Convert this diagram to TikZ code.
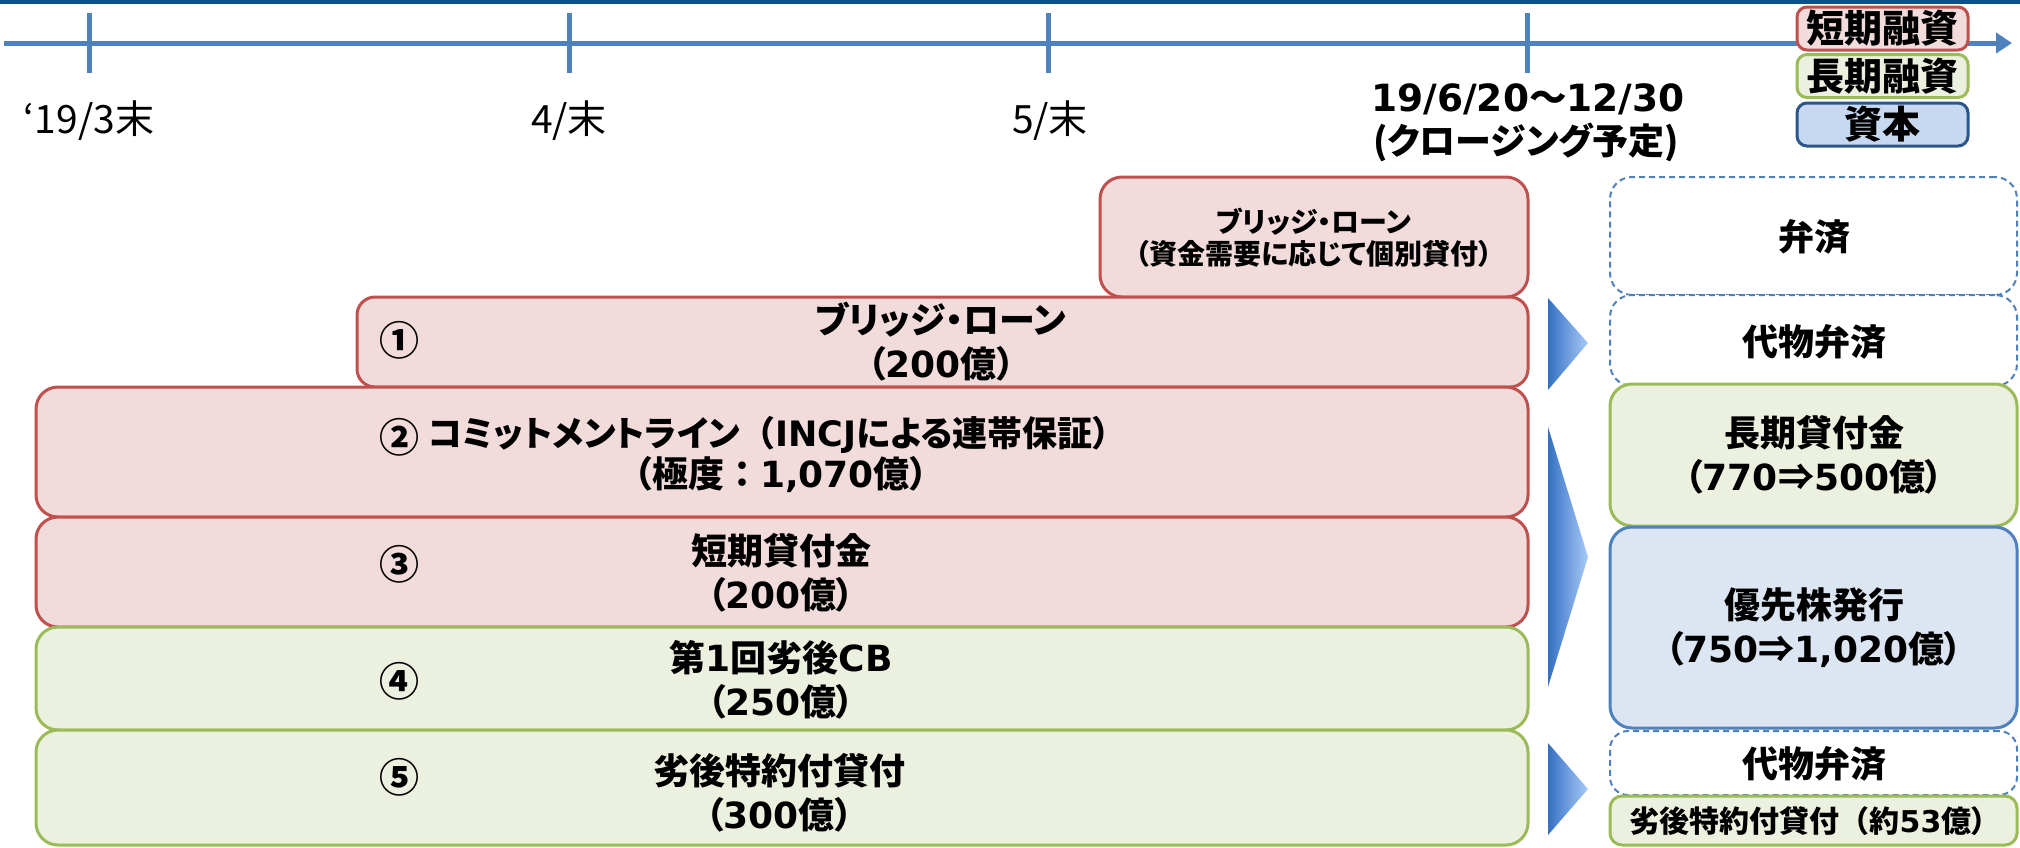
\documentclass[tikz,border=0pt]{standalone}
\usepackage{fontspec}
\usetikzlibrary{arrows.meta}
\newfontfamily\jpf[RawFeature=+palt]{Noto Sans CJK JP}
\newfontfamily\jpfw{Noto Sans CJK JP}
\newfontfamily\latf{DejaVu Sans}
\newcommand\dgt[1]{{\latf\bfseries #1}}
\newcommand\wlp{{\jpfw （}}
\newcommand\wrp{{\jpfw ）}}
\newcommand\wcol{{\jpfw ：}}
\newcommand\sz[2]{\fontsize{#1}{#2}\selectfont}
\definecolor{topbar}{HTML}{0A528E}
\definecolor{tlblue}{HTML}{4F81BD}
\definecolor{bred}{HTML}{C0504D}
\definecolor{fred}{HTML}{F2DCDB}
\definecolor{bgreen}{HTML}{9BBB59}
\definecolor{fgreen}{HTML}{EBF1DE}
\definecolor{bblue}{HTML}{4F81BD}
\definecolor{fblue}{HTML}{DCE6F2}
\definecolor{lgblue}{HTML}{C6D9F1}
\definecolor{lgbdr}{HTML}{2C5689}
\definecolor{arrdark}{HTML}{3570C4}
\definecolor{arrlight}{HTML}{A9CBF7}
\tikzset{
  tline/.style={draw=tlblue, line width=5pt},
  boxbase/.style={line width=3pt, inner sep=0pt, rounded corners=22pt},
  redbox/.style={boxbase, draw=bred, fill=fred},
  greenbox/.style={boxbase, draw=bgreen, fill=fgreen},
  bluebox/.style={boxbase, draw=bblue, fill=fblue},
  dashbox/.style={boxbase, draw=bblue, fill=white, dashed, dash pattern=on 6pt off 4pt, line width=2pt},
  lgbox/.style={line width=3pt, rounded corners=10pt, inner sep=0pt, minimum width=171pt, minimum height=43pt, font=\jpf\bfseries\sz{38}{40}},
  txt/.style={inner sep=0pt, align=center, font=\jpf\bfseries\sz{36}{44}},
  circ/.style={inner sep=0pt, font=\jpfw\bfseries\sz{40}{44}},
  smalltxt/.style={inner sep=0pt, align=center, font=\jpf\bfseries\sz{28}{32}},
  lbl/.style={inner sep=0pt, font=\jpf\sz{39}{42}},
  arrowshade/.style={left color=arrdark, right color=arrlight},
}
\begin{document}
\begin{tikzpicture}[x=1pt,y=-1pt]
\useasboundingbox (0,0) rectangle (2020,847);
% top bar
\fill[topbar] (0,0) rectangle (2020,4);
% timeline
\coordinate (tls) at (4,43);
\coordinate (tle) at (2012,43);
\draw[tline,-{Triangle[length=16pt,width=20pt]}] (tls) -- (tle);
\draw[tline] (89,13) -- (89,73);
\draw[tline] (569,13) -- (569,73);
\draw[tline] (1048,13) -- (1048,73);
\draw[tline] (1527,13) -- (1527,73);
\node[lbl] (d1) at (89,121) {‘19/3末};
\node[lbl] (d2) at (569,121) {4/末};
\node[lbl] (d3) at (1050,121) {5/末};
\node[txt, font=\jpf\bfseries\sz{37.5}{44}] (dt1) at (1528,99) {\dgt{19/6/20}～\dgt{12/30}};
\node[txt] (dt2) at (1526,142) {(クロージング予定)};
% legend
\node[lgbox, draw=bred, fill=fred] (lg1) at (1882.5,28.5) {短期融資};
\node[lgbox, draw=bgreen, fill=fgreen] (lg2) at (1882.5,76) {長期融資};
\node[lgbox, draw=lgbdr, fill=lgblue] (lg3) at (1882.5,124.5) {資本};
% left boxes
\node[redbox, minimum width=428pt, minimum height=120pt] (bt) at (1314,237) {};
\node[redbox, rounded corners=18pt, minimum width=1171pt, minimum height=90pt] (b1) at (942.5,342) {};
\node[redbox, minimum width=1492pt, minimum height=130pt] (b2) at (782,452) {};
\node[redbox, minimum width=1492pt, minimum height=110pt] (b3) at (782,572) {};
\node[greenbox, minimum width=1492pt, minimum height=103pt] (b4) at (782,678.5) {};
\node[greenbox, minimum width=1492pt, minimum height=115pt] (b5) at (782,787.5) {};
% right boxes
\node[dashbox, minimum width=407pt, minimum height=118pt] (r1) at (1813.5,236) {};
\node[dashbox, minimum width=407pt, minimum height=91pt] (r2) at (1813.5,340.5) {};
\node[greenbox, minimum width=407pt, minimum height=142pt] (r3) at (1813.5,455) {};
\node[bluebox, minimum width=407pt, minimum height=201pt] (r4) at (1813.5,627.5) {};
\node[dashbox, rounded corners=18pt, minimum width=407pt, minimum height=64pt] (r5) at (1813.5,763) {};
\node[greenbox, rounded corners=12pt, minimum width=407pt, minimum height=49pt] (r6) at (1813.5,820.5) {};
% arrows
\shade[arrowshade] (1548,298) -- (1588,343) -- (1548,390) -- cycle;
\shade[arrowshade] (1548,427) -- (1588,557) -- (1548,687) -- cycle;
\shade[arrowshade] (1548,743) -- (1588,789) -- (1548,835) -- cycle;
% texts left
\node[smalltxt] (tt) at (1314,238) {ブリッジ・ローン\\（資金需要に応じて個別貸付）};
\node[circ] (n1) at (399,340) {①};
\node[txt] (t1) at (941,342) {ブリッジ・ローン\\（\dgt{200}億）};
\node[circ] (n2) at (399,437) {②};
\node[txt, anchor=west, font=\jpf\bfseries\sz{35}{44}] (t2a) at (428,435) {コミットメントライン\wlp\dgt{INCJ}による連帯保証）};
\node[txt] (t2b) at (781,475) {（極度\wcol\dgt{1,070}億）};
\node[circ] (n3) at (399,564) {③};
\node[txt] (t3) at (781,573) {短期貸付金\\（\dgt{200}億）};
\node[circ] (n4) at (399,681) {④};
\node[txt] (t4) at (781,680) {第\dgt{1}回劣後\dgt{CB}\\（\dgt{250}億）};
\node[circ] (n5) at (399,777) {⑤};
\node[txt] (t5) at (779,793) {劣後特約付貸付\\（\dgt{300}億）};
% texts right
\node[txt] (rt1) at (1814,237) {弁済};
\node[txt] (rt2) at (1814,342) {代物弁済};
\node[txt] (rt3) at (1814,455) {長期貸付金\\（\dgt{770}⇒\dgt{500}億）};
\node[txt] (rt4) at (1814,628) {優先株発行\\（\dgt{750}⇒\dgt{1,020}億）};
\node[txt] (rt5) at (1814,764) {代物弁済};
\node[txt, font=\jpf\bfseries\sz{30}{36}] (rt6) at (1808,821) {劣後特約付貸付\wlp 約\dgt{53}億）};
\end{tikzpicture}
\end{document}
